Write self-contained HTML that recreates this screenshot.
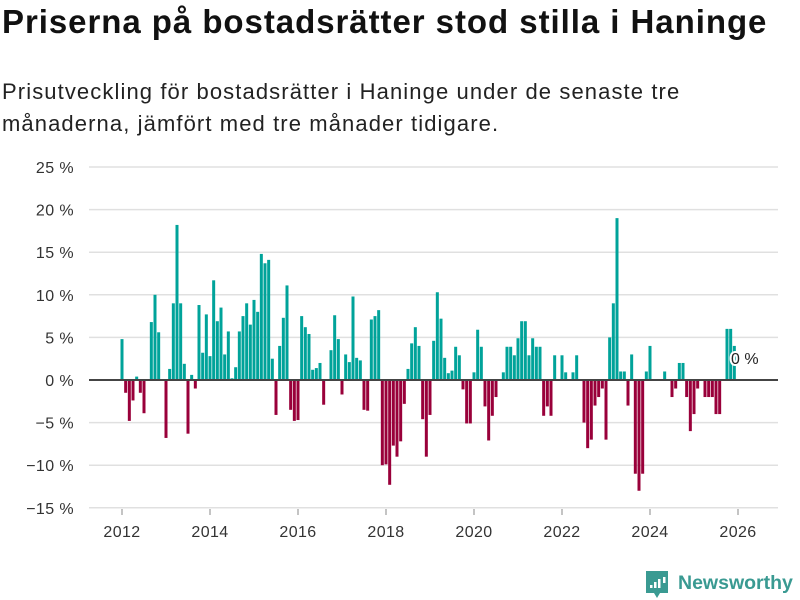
<!DOCTYPE html>
<html><head><meta charset="utf-8">
<style>
body{margin:0;background:#fff;font-family:"Liberation Sans",sans-serif;}
#wrap{position:relative;width:800px;height:600px;overflow:hidden;}
h1{position:absolute;left:2px;top:3px;margin:0;font-size:33px;font-weight:bold;color:#111;letter-spacing:0.95px;white-space:nowrap;}
p.sub{position:absolute;left:2px;top:76px;margin:0;font-size:22px;line-height:32px;color:#222;width:760px;letter-spacing:1.1px;white-space:nowrap;}
svg{position:absolute;left:0;top:0;}
</style></head><body>
<div id="wrap">
<h1>Priserna på bostadsrätter stod stilla i Haninge</h1>
<p class="sub">Prisutveckling för bostadsrätter i Haninge under de senaste tre<br>månaderna, jämfört med tre månader tidigare.</p>
<svg id="chart" width="800" height="600"></svg>
</div>
<script>
const startYear = 2012;
const values = [
4.8,-1.5,-4.8,-2.4,0.4,-1.5,-3.9,0,6.8,10,5.6,0,
-6.8,1.3,9,18.2,9,1.9,-6.3,0.6,-1,8.8,3.2,7.7,
2.8,11.7,6.9,8.5,3,5.7,0.2,1.5,5.7,7.5,9,6.5,
9.4,8,14.8,13.7,14.1,2.5,-4.1,4,7.3,11.1,-3.5,-4.8,
-4.7,7.5,6.2,5.4,1.2,1.4,2,-2.9,0,3.5,7.6,4.8,
-1.7,3,2.1,9.8,2.6,2.3,-3.5,-3.6,7.1,7.5,8.2,-10,
-9.9,-12.3,-7.7,-9,-7.2,-2.8,1.3,4.3,6.2,4,-4.6,-9,
-4.1,4.6,10.3,7.2,2.6,0.8,1.1,3.9,2.9,-1.1,-5.1,-5.1,
0.9,5.9,3.9,-3.1,-7.1,-4.2,-2,0,0.9,3.9,3.9,2.9,
4.9,6.9,6.9,2.9,4.9,3.9,3.9,-4.2,-3.1,-4.2,2.9,0,
2.9,0.9,0,0.9,2.9,0,-5,-8,-7,-3,-2,-1,
-7,5,9,19,1,1,-3,3,-11,-13,-11,1,
4,0,0,0,1,0,-2,-1,2,2,-2,-6,
-4,-1,0,-2,-2,-2,-4,-4,0,6,6,4,
0
];
const yTicks = [25,20,15,10,5,0,-5,-10,-15];
const xTicks = [2012,2014,2016,2018,2020,2022,2024,2026];
const lastLabel = "0 %";

const NS = "http://www.w3.org/2000/svg";
const svg = document.getElementById('chart');
const x0 = 122, x1 = 738;
const yZero = 380, pxPer = 8.52;
function xScale(m){ return x0 + m*(x1-x0)/((2026-startYear)*12); }
function yScale(v){ return yZero - v*pxPer; }
function mk(tag, attrs){ const e=document.createElementNS(NS,tag); for(const k in attrs) e.setAttribute(k,attrs[k]); svg.appendChild(e); return e; }

yTicks.forEach(t=>{
  const y=yScale(t);
  const g=mk('line',{x1:89,x2:778,y1:y,y2:y,stroke:'#e0e0e0','stroke-width':1.5});
  
  
  const lb=mk('text',{x:74,y:y+6,'text-anchor':'end','font-size':16,fill:'#333','letter-spacing':0.4,'font-family':'Liberation Sans, sans-serif'});
  lb.textContent=(t<0?'\u2212'+Math.abs(t):t)+' %';
  
  
});
xTicks.forEach(t=>{
  const x=xScale((t-startYear)*12);
  const tk=mk('line',{x1:x,x2:x,y1:509,y2:515,stroke:'#888','stroke-width':1});
  
  
  const lb=mk('text',{x:x,y:537,'text-anchor':'middle','font-size':16,fill:'#333','letter-spacing':0.4,'font-family':'Liberation Sans, sans-serif'});
  lb.textContent=t;
  
  
});
values.forEach((v,i)=>{
  const x=xScale(i)-1.5;
  const y=Math.min(yScale(v),yZero), h=Math.abs(yScale(v)-yZero);
  const r=mk('rect',{x:x,y:y,width:3,height:h,fill:v>=0?'#00a39a':'#99003a'});
  
  
});
const zl=mk('line',{x1:89,x2:778,y1:yZero,y2:yZero,stroke:'#444','stroke-width':2});


const li=values.length-1;
const ann=mk('text',{x:xScale(li)-7,y:yScale(values[li])-16,'font-size':16,fill:'#222',stroke:'#fff','stroke-width':4,'paint-order':'stroke','font-family':'Liberation Sans, sans-serif'});
ann.textContent=lastLabel;



const lg=mk('g',{});


const p=document.createElementNS(NS,'path');
p.setAttribute('d','M646 571 h22 v22 h-8 l-3 5 l-3 -5 h-8 z');
p.setAttribute('fill','#3a9a92');


lg.appendChild(p);
[[650,585,3],[654,582,6],[658,579,9],[663,577,6]].forEach(b=>{
  const r=document.createElementNS(NS,'rect');
  r.setAttribute('x',b[0]);r.setAttribute('y',b[1]);r.setAttribute('width',2.5);r.setAttribute('height',b[2]);r.setAttribute('fill','#fff');
  
  
  lg.appendChild(r);
});
const lt=document.createElementNS(NS,'text');
lt.setAttribute('x',678);lt.setAttribute('y',589);lt.setAttribute('font-size',19.5);lt.setAttribute('font-weight','bold');
lt.setAttribute('fill','#3a9a92');lt.setAttribute('font-family','Liberation Sans, sans-serif');
lt.textContent='Newsworthy';


lg.appendChild(lt);
</script>
</body></html>
